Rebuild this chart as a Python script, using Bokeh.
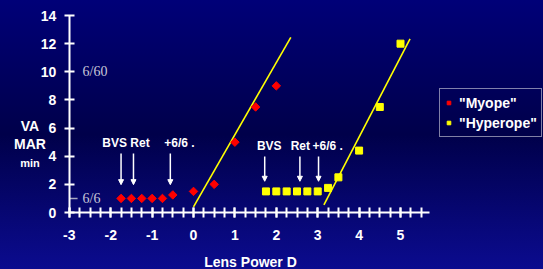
import numpy as np
from bokeh.plotting import figure
from bokeh.models import (Label, Arrow, NormalHead, Legend, LegendItem, FixedTicker, Range1d)
from bokeh.embed import file_html
from bokeh.resources import INLINE

# ---- data ----
myope_x = [-1.75, -1.5, -1.25, -1.0, -0.75, -0.5, 0.0, 0.5, 1.0, 1.5, 2.0]
myope_y = [1.0, 1.0, 1.0, 1.0, 1.0, 1.25, 1.5, 2.0, 5.0, 7.5, 9.0]
hyper_x = [1.75, 2.0, 2.25, 2.5, 2.75, 3.0, 3.25, 3.5, 4.0, 4.5, 5.0]
hyper_y = [1.5, 1.5, 1.5, 1.5, 1.5, 1.5, 1.75, 2.5, 4.4, 7.5, 12.0]

myope_fit_x = [0.0, 2.35]
myope_fit_y = [0.4, 12.45]
hyper_fit_x = [3.15, 5.23]
hyper_fit_y = [0.55, 12.34]

x_ticks = [-3, -2, -1, 0, 1, 2, 3, 4, 5]
x_tick_labels = ["-3", "-2", "-1", "0", "1", "2", "3", "4", "5"]
x_minor = list(np.arange(-3, 5.51, 0.25))
y_ticks = [0, 2, 4, 6, 8, 10, 12, 14]
x_axis_bounds = (-3, 5.7)
y_axis_bounds = (0, 14)

myope_ann_text = ["BVS Ret", "+6/6 ."]
myope_ann_x = [-1.63, -0.34]
myope_ann_y = 4.95
myope_arrow_x = [-1.75, -1.45, -0.56]
myope_arrow_y = (4.2, 1.98)

hyper_ann_text = ["BVS", "Ret", "+6/6 ."]
hyper_ann_x = [1.83, 2.58, 3.24]
hyper_ann_y = 4.7
hyper_arrow_x = [1.72, 2.57, 3.02]
hyper_arrow_y = (3.98, 2.22)

FONT = "Liberation Sans"
SERIF = "Liberation Serif"

W, H = 543, 269
p = figure(width=W, height=H, output_backend="svg", toolbar_location=None,
           x_range=Range1d(-4.662, 8.454), y_range=Range1d(-4.051, 15.068),
           min_border=0)
p.background_fill_alpha = 0
p.border_fill_alpha = 0
p.outline_line_color = None
p.grid.visible = False

for ax in (p.xaxis[0], p.yaxis[0]):
    ax.axis_line_color = "white"
    ax.axis_line_width = 2
    ax.major_tick_line_color = "white"
    ax.major_tick_line_width = 2
    ax.major_tick_in = 5
    ax.major_tick_out = 5
    ax.major_label_text_color = "white"
    ax.major_label_text_font = FONT
    ax.major_label_text_font_style = "bold"
    ax.major_label_text_font_size = "14px"

p.xaxis[0].fixed_location = 0
p.xaxis[0].bounds = x_axis_bounds
p.xaxis[0].ticker = FixedTicker(ticks=x_ticks, minor_ticks=x_minor)
p.xaxis[0].major_label_overrides = {t: s for t, s in zip(x_ticks, x_tick_labels)}
p.xaxis[0].minor_tick_line_color = "white"
p.xaxis[0].minor_tick_line_width = 2
p.xaxis[0].minor_tick_in = 5
p.xaxis[0].minor_tick_out = 5
p.xaxis[0].major_label_standoff = 12

p.yaxis[0].fixed_location = -3
p.yaxis[0].bounds = y_axis_bounds
p.yaxis[0].ticker = FixedTicker(ticks=y_ticks, minor_ticks=[])
p.yaxis[0].minor_tick_line_color = None
p.yaxis[0].major_label_standoff = 8

# fit lines
p.line(myope_fit_x, myope_fit_y, line_color="#ffff00", line_width=1.6)
p.line(hyper_fit_x, hyper_fit_y, line_color="#ffff00", line_width=1.6)

r_my = p.scatter(myope_x, myope_y, marker="square", angle=np.pi / 4, size=6,
                 fill_color="#ff0000", line_color="#ff0000")
r_hy = p.scatter(hyper_x, hyper_y, marker="square", size=7,
                 fill_color="#ffff00", line_color="#ffff00")

# reference marks
p.segment(x0=[-3.0], y0=[1.0], x1=[-2.8], y1=[1.0], line_color="#a8a8c0", line_width=1.5)
p.add_layout(Label(x=-2.68, y=10, text="6/60", text_font=SERIF, text_font_size="14px",
                   text_color="#c8c8d8", text_baseline="middle"))
p.add_layout(Label(x=-2.68, y=1, text="6/6", text_font=SERIF, text_font_size="14px",
                   text_color="#c8c8d8", text_baseline="middle"))

# y axis title
for txt, yy, fs in [("VA", 6.18, "14px"), ("MAR", 4.9, "14px"), ("min", 3.55, "11px")]:
    p.add_layout(Label(x=-3.95, y=yy, text=txt, text_font=FONT, text_font_style="bold",
                       text_font_size=fs, text_color="white", text_align="center",
                       text_baseline="middle"))

# x axis title
p.add_layout(Label(x=1.377, y=-3.55, text="Lens Power D", text_font=FONT,
                   text_font_style="bold", text_font_size="14px", text_color="white",
                   text_align="center", text_baseline="middle"))

# annotations
for t, xx in zip(myope_ann_text, myope_ann_x):
    p.add_layout(Label(x=xx, y=myope_ann_y, text=t, text_font=FONT, text_font_style="bold",
                       text_font_size="12px", text_color="white", text_align="center",
                       text_baseline="middle"))
for t, xx in zip(hyper_ann_text, hyper_ann_x):
    p.add_layout(Label(x=xx, y=hyper_ann_y, text=t, text_font=FONT, text_font_style="bold",
                       text_font_size="12px", text_color="white", text_align="center",
                       text_baseline="middle"))
for xs, (ys, ye) in [(myope_arrow_x, myope_arrow_y), (hyper_arrow_x, hyper_arrow_y)]:
    for xx in xs:
        p.add_layout(Arrow(x_start=xx, y_start=ys, x_end=xx, y_end=ye,
                           line_color="white", line_width=1.5,
                           end=NormalHead(size=5, fill_color="white", line_color="white")))

legend = Legend(items=[LegendItem(label='"Myope"', renderers=[r_my]),
                       LegendItem(label='"Hyperope"', renderers=[r_hy])],
                location=(439, 132), orientation="vertical",
                background_fill_alpha=0, border_line_color="white", border_line_width=1,
                label_text_color="white", label_text_font=FONT, label_text_font_style="bold",
                label_text_font_size="14px", glyph_width=9, glyph_height=9,
                label_standoff=6, padding=4, spacing=1, margin=0, label_height=19)
p.add_layout(legend, "center")

html = file_html(p, INLINE)
style = ("<style>html,body{height:100%;margin:0;} body{background:linear-gradient(to bottom,"
         "#000078 0%,#00004a 50%,#0b0b8f 100%);}</style>")
html = html.replace("</head>", style + "</head>", 1)
open("out.html", "w").write(html)
